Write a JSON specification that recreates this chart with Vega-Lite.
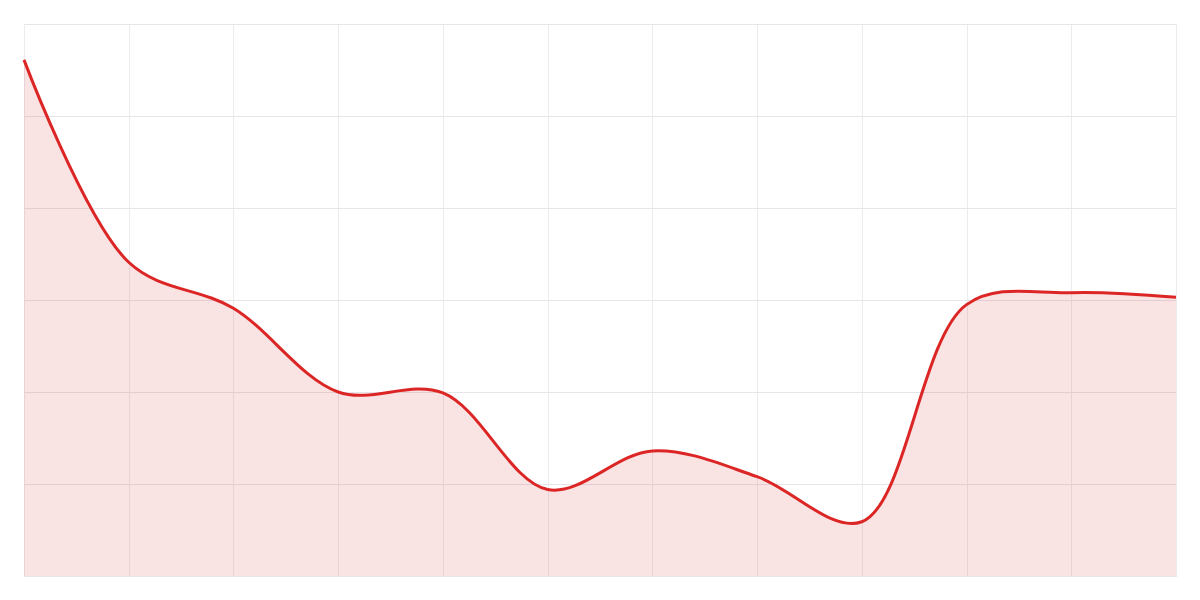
{
  "$schema": "https://vega.github.io/schema/vega-lite/v6.json",
  "width": 1152,
  "height": 552,
  "autosize": "none",
  "padding": 24,
  "background": "white",
  "config": {"view": {"stroke": "#e8e8ec", "strokeWidth": 1}},
  "data": {
    "values": [
      {"step": 0, "value": 56.1},
      {"step": 1, "value": 34.1},
      {"step": 2, "value": 29.1},
      {"step": 3, "value": 20.0},
      {"step": 4, "value": 19.9},
      {"step": 5, "value": 9.4},
      {"step": 6, "value": 13.6},
      {"step": 7, "value": 10.8},
      {"step": 8, "value": 5.9},
      {"step": 9, "value": 29.5},
      {"step": 10, "value": 30.8},
      {"step": 11, "value": 30.3}
    ]
  },
  "encoding": {
    "x": {
      "field": "step",
      "type": "quantitative",
      "scale": {"domain": [0, 11], "nice": false, "zero": false},
      "axis": {"title": null, "labels": false, "ticks": false, "domain": false, "values": [0,1,2,3,4,5,6,7,8,9,10,11], "grid": true, "gridColor": "#ececf0", "gridWidth": 1}
    },
    "y": {
      "field": "value",
      "type": "quantitative",
      "scale": {"domain": [0, 60], "nice": false},
      "axis": {"title": null, "labels": false, "ticks": false, "domain": false, "values": [0,10,20,30,40,50,60], "grid": true, "gridColor": "#e6e6ea", "gridWidth": 1}
    }
  },
  "layer": [
    {"mark": {"type": "area", "interpolate": "catmull-rom", "color": "#dc2626", "opacity": 0.13}},
    {"mark": {"type": "line", "interpolate": "catmull-rom", "color": "#dc2626", "strokeWidth": 3}}
  ]
}
